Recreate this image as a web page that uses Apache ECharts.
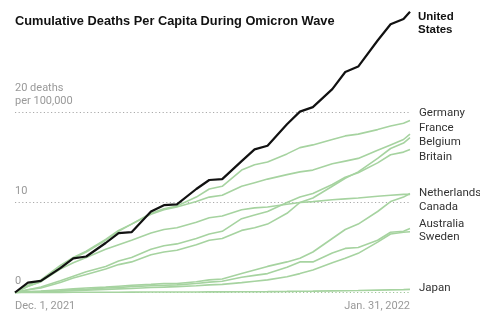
<!DOCTYPE html>
<html><head><meta charset="utf-8">
<script src="https://cdn.jsdelivr.net/npm/echarts@6/dist/echarts.min.js"></script>
<style>html,body{margin:0;padding:0;background:#fff}#c{width:480px;height:322px}</style>
</head><body><div id="c"></div>
<script>
// Day index since Dec. 1, 2021 (0 = Dec. 1, 61 = Jan. 31, 2022)
const days = [0,2,4,7,9,11,14,16,18,21,23,25,28,30,32,35,37,39,42,44,46,49,51,53,56,58,60,61];
const xTickLabels = {0: 'Dec. 1, 2021', 61: 'Jan. 31, 2022'};
const yTickLabels = {0: '0', 10: '10', 20: '20 deaths\nper 100,000'};

// Cumulative deaths per 100,000
const unitedStates = [0,1.1,1.3,2.7,3.8,4.0,5.5,6.6,6.7,9.0,9.7,9.8,11.5,12.5,12.6,14.6,15.9,16.3,18.7,20.1,20.6,22.6,24.5,25.1,28.0,29.8,30.4,31.2];
const germany     = [0,0.8,1.4,3.0,3.9,4.6,5.9,6.9,7.6,8.8,9.3,9.6,10.6,11.5,11.8,13.6,14.2,14.5,15.4,16.1,16.4,17.0,17.4,17.6,18.1,18.5,18.8,19.1];
const france      = [0,0.7,1.2,2.8,3.8,4.5,5.8,6.8,7.6,8.7,9.2,9.5,10.1,10.6,10.8,11.8,12.2,12.6,13.1,13.4,13.6,14.3,14.6,14.9,15.8,16.4,17.0,17.6];
const belgium     = [0,0.3,0.5,1.1,1.6,2.0,2.6,3.1,3.4,4.2,4.5,4.7,5.3,5.8,6.0,6.9,7.2,7.6,8.8,10.0,10.5,11.8,12.7,13.4,14.9,16.0,16.6,17.2];
const britain     = [0,0.3,0.6,1.3,1.8,2.3,2.9,3.5,3.9,4.8,5.2,5.4,6.0,6.5,6.8,8.2,8.6,9.0,10.0,10.6,11.0,12.0,12.8,13.3,14.4,15.3,15.6,15.9];
const netherlands = [0,0.7,1.2,2.6,3.3,3.9,4.8,5.3,5.8,6.6,7.0,7.2,7.8,8.3,8.5,9.2,9.4,9.5,9.8,10.0,10.1,10.3,10.4,10.5,10.7,10.8,10.9,10.9];
const canada      = [0,0.1,0.15,0.3,0.4,0.5,0.6,0.7,0.8,0.9,1.0,1.0,1.2,1.4,1.5,2.1,2.5,2.9,3.4,3.8,4.5,6.0,7.0,7.6,9.0,10.1,10.6,11.0];
const australia   = [0,0.05,0.1,0.2,0.3,0.35,0.5,0.55,0.65,0.75,0.8,0.85,1.0,1.15,1.25,1.7,1.9,2.1,2.8,3.4,3.4,4.4,4.9,5.0,5.8,6.7,6.8,7.1];
const sweden      = [0,0.05,0.1,0.15,0.2,0.25,0.35,0.4,0.45,0.55,0.6,0.65,0.75,0.85,0.9,1.1,1.25,1.4,1.75,2.1,2.5,3.3,3.8,4.35,5.6,6.5,6.7,6.75];
const japan       = [0,0,0,0.01,0.02,0.02,0.03,0.03,0.04,0.05,0.05,0.05,0.06,0.07,0.07,0.08,0.09,0.1,0.12,0.14,0.15,0.18,0.2,0.22,0.26,0.29,0.32,0.35];
// Canada label leader (gray) level and span, in data units
const canadaLeader = {level: 9.55, from: 57.2, to: 61.5};

const countries = [
  ['Germany', germany, -7.5],
  ['France', france, -6],
  ['Belgium', belgium, 4.5],
  ['Britain', britain, 7.5],
  ['Netherlands', netherlands, -1],
  ['Canada', canada, 13.5],
  ['Australia', australia, -4.5],
  ['Sweden', sweden, 5.5],
  ['Japan', japan, -1]
];

const FONT = 'Roboto, "Liberation Sans", Arial, sans-serif';
const TFONT = '"Liberation Sans", Arial, sans-serif';
const GREEN = '#a6d3a0';
const pairs = vals => days.map((d, i) => [d, vals[i]]);

const series = countries.map(([name, vals, dy]) => {
  const s = {
    name, type: 'line', data: pairs(vals), symbol: 'none', clip: false, z: 2,
    lineStyle: {color: GREEN, width: 1.6},
    emphasis: {disabled: true},
    endLabel: {show: true, formatter: name, distance: 9, offset: [0, dy],
      color: '#333', fontSize: 11.5, fontFamily: FONT}
  };
  if (name === 'Canada') {
    s.markLine = {silent: true, symbol: 'none', label: {show: false},
      lineStyle: {color: '#b5b5b5', type: 'solid', width: 1.5},
      data: [[{coord: [canadaLeader.from, canadaLeader.level]}, {coord: [canadaLeader.to, canadaLeader.level]}]]};
  }
  return s;
});
series.push({
  name: 'United States', type: 'line', data: pairs(unitedStates), symbol: 'none', clip: false, z: 5,
  lineStyle: {color: '#111', width: 2.2},
  emphasis: {disabled: true},
  endLabel: {show: true, formatter: 'United\nStates', distance: 8, offset: [0, 12],
    color: '#111', fontSize: 11.5, fontWeight: 'bold', lineHeight: 13, fontFamily: TFONT}
});

const chart = echarts.init(document.getElementById('c'), null, {renderer: 'canvas'});
chart.setOption({
  animation: false,
  backgroundColor: '#fff',
  title: {text: 'Cumulative Deaths Per Capita During Omicron Wave', left: 10, top: 10,
    textStyle: {fontFamily: TFONT, fontSize: 12.8, fontWeight: 'bold', color: '#111'}},
  grid: {left: 15, right: 70, top: 22.5, bottom: 29.5},
  xAxis: {type: 'value', min: 0, max: 61, interval: 61,
    axisLine: {show: false}, axisTick: {show: false}, splitLine: {show: false},
    axisLabel: {formatter: v => xTickLabels[v] || '', color: '#999', fontSize: 11, fontFamily: FONT,
      margin: 8, alignMinLabel: 'left', alignMaxLabel: 'right'}},
  yAxis: {type: 'value', min: 0, max: 30, interval: 10,
    axisLine: {show: false}, axisTick: {show: false},
    splitLine: {show: true, lineStyle: {color: ['#9cc497', '#aaa', '#aaa', 'rgba(0,0,0,0)'], type: [1.2, 2.4], width: 1}},
    axisLabel: {inside: true, margin: 0, formatter: v => yTickLabels[v] || '', color: '#999', fontSize: 11,
      fontFamily: FONT, verticalAlign: 'bottom', lineHeight: 13, padding: [0, 0, 5, 0]}},
  series
});
</script></body></html>
